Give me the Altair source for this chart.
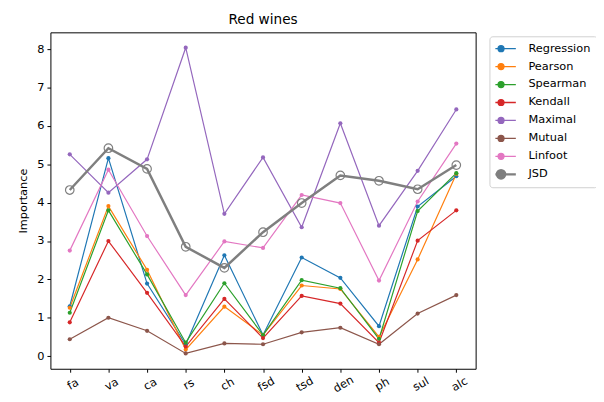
import altair as alt
import pandas as pd

features = ["fa", "va", "ca", "rs", "ch", "fsd", "tsd", "den", "ph", "sul", "alc"]
regression = [1.30, 5.16, 1.89, 0.30, 2.63, 0.55, 2.57, 2.04, 0.78, 3.90, 4.69]
pearson = [1.26, 3.91, 2.25, 0.17, 1.29, 0.55, 1.84, 1.75, 0.50, 2.52, 4.75]
spearman = [1.13, 3.80, 2.13, 0.35, 1.90, 0.55, 1.98, 1.77, 0.45, 3.78, 4.77]
kendall = [0.88, 3.00, 1.65, 0.25, 1.49, 0.47, 1.57, 1.37, 0.35, 3.01, 3.80]
maximal = [5.26, 4.26, 5.13, 8.04, 3.71, 5.18, 3.36, 6.07, 3.40, 4.83, 6.43]
mutual = [0.44, 1.00, 0.66, 0.07, 0.33, 0.31, 0.62, 0.74, 0.31, 1.11, 1.59]
linfoot = [2.75, 4.86, 3.13, 1.59, 2.99, 2.82, 4.20, 3.99, 1.97, 4.03, 5.54]
jsd = [4.33, 5.42, 4.88, 2.85, 2.30, 3.23, 3.99, 4.71, 4.57, 4.35, 4.98]

series_names = ["Regression", "Pearson", "Spearman", "Kendall", "Maximal", "Mutual", "Linfoot", "JSD"]
series_values = [regression, pearson, spearman, kendall, maximal, mutual, linfoot, jsd]
colors = ["#1f77b4", "#ff7f0e", "#2ca02c", "#d62728", "#9467bd", "#8c564b", "#e377c2", "#7f7f7f"]

rows = []
for name, vals in zip(series_names, series_values):
    for f, v in zip(features, vals):
        rows.append({"feature": f, "method": name, "value": v})
df = pd.DataFrame(rows)

FONT = "DejaVu Sans"
FS = 11.5

x_enc = alt.X("feature:N", sort=features, title=None,
              scale=alt.Scale(type="point", padding=0.5),
              axis=alt.Axis(labelAngle=-30, labelAlign="center", labelBaseline="top",
                            labelPadding=7, tickSize=3.5, domain=False,
                            tickColor="black", labelColor="black", labelFontSize=FS))
y_enc = alt.Y("value:Q", title="Importance",
              scale=alt.Scale(domain=[-0.33, 8.44], nice=False, zero=False),
              axis=alt.Axis(values=list(range(0, 9)), tickSize=3.5, domain=False, grid=False,
                            tickColor="black", labelColor="black", labelFontSize=FS,
                            titleFontSize=FS, titleFontWeight="normal", titlePadding=8,
                            titleColor="black", labelPadding=3))

small_sym = "M-1.25,0L1.25,0M0.25,0A0.25,0.25,0,1,1,-0.25,0A0.25,0.25,0,1,1,0.25,0Z"
big_sym = "M-1.25,0L1.25,0M0.36,0A0.36,0.36,0,1,1,-0.36,0A0.36,0.36,0,1,1,0.36,0Z"

color_enc = alt.Color("method:N", sort=series_names,
                      scale=alt.Scale(domain=series_names, range=colors),
                      legend=alt.Legend(title=None, orient="none", legendX=445, legendY=4,
                                        symbolType=alt.ExprRef(
                                            f"datum.value == 'JSD' ? '{big_sym}' : '{small_sym}'"),
                                        symbolSize=576,
                                        symbolStrokeWidth=alt.ExprRef(
                                            "datum.value == 'JSD' ? 2.2 : 1.3"),
                                        symbolFillColor=alt.ExprRef(
                                            "datum.value == 'JSD' ? 'white' : scale('color', datum.value)"),
                                        labelFontSize=FS, clipHeight=13,
                                        labelOffset=22, rowPadding=5.2,
                                        padding=6, strokeColor="#d0d0d0",
                                        cornerRadius=3, fillColor="white",
                                        labelColor="black"))

thin = df[df.method != "JSD"]
thick = df[df.method == "JSD"]

lines = alt.Chart(thin).mark_line(strokeWidth=1.2).encode(
    x=x_enc, y=y_enc, color=color_enc, detail="method:N")
points = alt.Chart(thin).mark_point(filled=True, size=18, opacity=1).encode(
    x=x_enc, y=y_enc, color=color_enc)

jsd_line = alt.Chart(thick).mark_line(strokeWidth=2.5).encode(
    x=x_enc, y=y_enc, color=color_enc)
jsd_points = alt.Chart(thick).mark_point(filled=False, size=75, strokeWidth=1.2,
                                         fill="white", fillOpacity=0).encode(
    x=x_enc, y=y_enc, color=color_enc)

chart = alt.layer(lines, points, jsd_line, jsd_points).properties(
    width=431, height=341,
    title=alt.TitleParams("Red wines", fontSize=13.8, fontWeight="normal", font=FONT,
                          color="black", offset=6, anchor="middle"),
    autosize=alt.AutoSizeParams(type="none"),
    padding={"left": 43, "top": 22, "right": 122, "bottom": 31},
).configure(font=FONT).configure_view(
    stroke="black", strokeWidth=1
).configure_axis(labelFont=FONT, titleFont=FONT).configure_legend(labelFont=FONT)

chart.save("out.html", embed_options={"renderer": "svg", "actions": False})
